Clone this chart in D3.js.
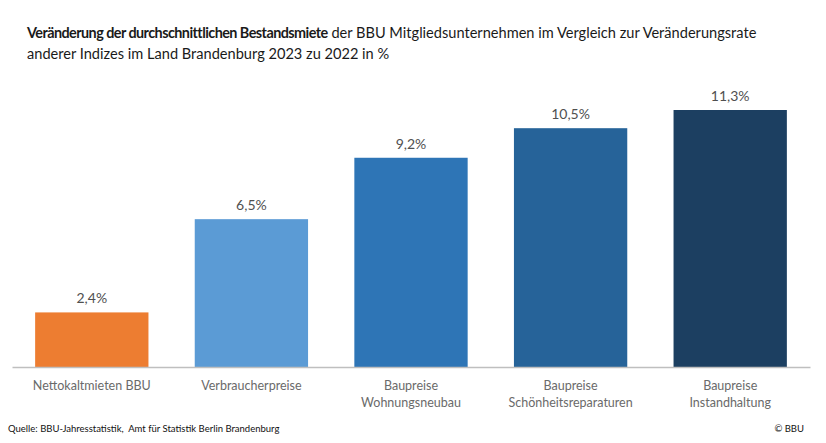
<!DOCTYPE html>
<html><head><meta charset="utf-8">
<script src="https://cdn.jsdelivr.net/npm/d3@7"></script>
<style>body{margin:0;background:#fff}svg{display:block}</style>
</head><body>
<script>
const categories = [["Nettokaltmieten BBU"],["Verbraucherpreise"],["Baupreise","Wohnungsneubau"],["Baupreise","Schönheitsreparaturen"],["Baupreise","Instandhaltung"]];
const values = [2.4, 6.5, 9.2, 10.5, 11.3];
const valueLabels = ["2,4%","6,5%","9,2%","10,5%","11,3%"];
const colors = ["#ED7D31","#5B9BD5","#2E75B6","#266399","#1C3F61"];

const W=826,H=443;
const svg=d3.select("body").append("svg").attr("width",W).attr("height",H);
const font="Lato, 'Open Sans', sans-serif";
const x=d3.scaleBand().domain(d3.range(values.length)).range([12,810]).paddingInner(0.29).paddingOuter(0.145);
const y=d3.scaleLinear().domain([0,11.3]).range([367,110]);

const t=svg.append("text").attr("x",27).attr("y",38).attr("font-family",font).attr("font-size",14.6).attr("fill","#1a1a1a");
t.append("tspan").attr("font-weight","bold").attr("font-size",14.4).attr("letter-spacing",-0.55).text("Veränderung der durchschnittlichen Bestandsmiete");
t.append("tspan").text(" der BBU Mitgliedsunternehmen im Vergleich zur Veränderungsrate");
svg.append("text").attr("x",27).attr("y",59).attr("font-family",font).attr("font-size",14.6).attr("fill","#1a1a1a").text("anderer Indizes im Land Brandenburg 2023 zu 2022 in %");

svg.selectAll("rect.bar").data(values).join("rect").attr("class","bar")
 .attr("x",(d,i)=>x(i)).attr("width",x.bandwidth()).attr("y",d=>y(d)).attr("height",d=>y(0)-y(d)).attr("fill",(d,i)=>colors[i]);

svg.selectAll("text.val").data(values).join("text").attr("class","val")
 .attr("x",(d,i)=>x(i)+x.bandwidth()/2).attr("y",d=>y(d)-9).attr("text-anchor","middle")
 .attr("font-family",font).attr("font-size",14).attr("fill","#505050").text((d,i)=>valueLabels[i]);

const xa=svg.append("g").attr("transform","translate(0,367)").call(d3.axisBottom(x).tickSize(0).tickFormat(""));
xa.select(".domain").attr("stroke","#BFBFBF").attr("stroke-width",1.5);

svg.selectAll("text.cat").data(categories).join("text").attr("class","cat")
 .attr("font-family",font).attr("font-size",12.5).attr("fill","#6a6a6a").attr("text-anchor","middle")
 .each(function(lines,i){
   d3.select(this).selectAll("tspan").data(lines).join("tspan")
    .attr("x",x(i)+x.bandwidth()/2).attr("y",(l,j)=>390+j*16.5).text(l=>l);
 });

svg.append("text").attr("x",8).attr("y",432).attr("font-family",font).attr("font-size",9.5).attr("fill","#111").text("Quelle: BBU-Jahresstatistik,\u00a0 Amt für Statistik Berlin Brandenburg");
svg.append("text").attr("x",804).attr("y",432).attr("text-anchor","end").attr("font-family",font).attr("font-size",9.5).attr("fill","#111").text("© BBU");
</script>
</body></html>
